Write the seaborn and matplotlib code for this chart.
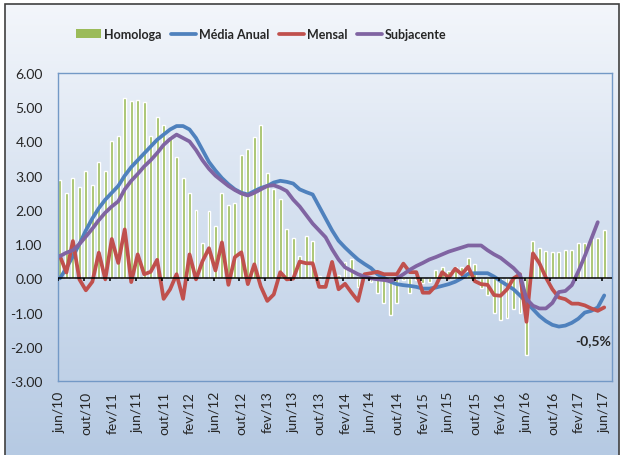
import numpy as np
import pandas as pd
import matplotlib
matplotlib.use('Agg')
import matplotlib.pyplot as plt
import seaborn as sns
from matplotlib.colors import LinearSegmentedColormap
from matplotlib.patches import Patch, Rectangle
from matplotlib.lines import Line2D

# Dados mensais jun/10 - jun/17
homologa = [2.86, 2.48, 2.93, 2.67, 3.14, 2.74, 3.41, 3.14, 4.02, 4.17,
            5.26, 5.18, 5.21, 5.15, 4.17, 4.71, 4.49, 4.15, 3.56, 2.94,
            2.48, 2.01, 1.04, 1.97, 1.54, 2.48, 2.13, 2.20, 3.59, 3.79,
            4.14, 4.49, 3.09, 2.60, 2.33, 1.43, 1.19, 0.65, 1.23, 1.08,
            0.08, 0.02, 0.05, 0.10, 0.49, 0.57, -0.24, 0.15, -0.10, -0.42,
            -0.73, -1.07, -0.73, -0.05, -0.42, -0.05, -0.13, -0.10, 0.23, 0.34,
            0.21, 0.34, 0.34, 0.58, 0.43, -0.27, -0.49, -1.00, -1.22, -1.15,
            -0.90, -1.00, -2.23, 1.08, 0.88, 0.81, 0.77, 0.77, 0.82, 0.84,
            1.04, 1.04, 1.14, 1.18, 1.40]

media_anual = [0.00, 0.30, 0.65, 1.00, 1.40, 1.75, 2.05, 2.30, 2.50, 2.70,
               3.00, 3.25, 3.45, 3.65, 3.85, 4.05, 4.20, 4.35, 4.45, 4.45,
               4.35, 4.10, 3.75, 3.40, 3.15, 2.93, 2.75, 2.60, 2.50, 2.45,
               2.55, 2.64, 2.70, 2.80, 2.85, 2.82, 2.77, 2.60, 2.52, 2.45,
               2.10, 1.75, 1.40, 1.10, 0.90, 0.72, 0.55, 0.42, 0.30, 0.12,
               0.02, -0.10, -0.17, -0.20, -0.22, -0.25, -0.30, -0.30, -0.27, -0.22,
               -0.17, -0.10, 0.00, 0.13, 0.15, 0.15, 0.15, 0.05, -0.08, -0.20,
               -0.32, -0.50, -0.70, -0.90, -1.10, -1.25, -1.36, -1.41, -1.38, -1.30,
               -1.18, -1.00, -0.95, -0.85, -0.50]

mensal = [0.65, 0.17, 1.09, -0.03, -0.35, -0.10, 0.75, -0.03, 1.15, 0.45,
          1.43, -0.11, 0.70, 0.12, 0.19, 0.54, -0.60, -0.32, 0.12, -0.60,
          0.70, -0.03, 0.50, 0.88, 0.23, 1.05, -0.19, 0.62, 0.76, -0.17,
          0.41, -0.24, -0.66, -0.47, 0.18, -0.03, -0.01, 0.49, 0.44, 0.44,
          -0.25, -0.25, 0.48, -0.32, -0.16, -0.42, -0.66, 0.12, 0.15, 0.19,
          0.12, 0.12, 0.12, 0.43, 0.18, 0.18, -0.42, -0.42, -0.22, 0.18,
          0.02, 0.28, 0.12, 0.34, -0.08, -0.17, -0.19, -0.49, -0.51, -0.32,
          0.00, 0.12, -1.27, 0.73, 0.44, 0.02, -0.32, -0.56, -0.61, -0.74,
          -0.74, -0.79, -0.88, -0.95, -0.85]

subjacente = [0.65, 0.75, 0.82, 1.00, 1.22, 1.45, 1.70, 1.92, 2.10, 2.25,
              2.60, 2.85, 3.05, 3.27, 3.45, 3.66, 3.90, 4.07, 4.20, 4.10,
              4.00, 3.75, 3.45, 3.20, 3.00, 2.85, 2.70, 2.58, 2.48, 2.42,
              2.50, 2.60, 2.70, 2.72, 2.65, 2.55, 2.30, 2.10, 1.85, 1.60,
              1.40, 1.20, 0.85, 0.55, 0.32, 0.22, 0.12, 0.05, 0.00, -0.03,
              -0.05, -0.08, 0.00, 0.12, 0.25, 0.36, 0.45, 0.55, 0.62, 0.70,
              0.78, 0.84, 0.90, 0.96, 0.96, 0.96, 0.82, 0.70, 0.60, 0.45,
              0.30, 0.10, -0.60, -0.80, -0.88, -0.88, -0.72, -0.40, -0.37, -0.20,
              0.20, 0.65, 1.15, 1.64, np.nan]

rotulos_x = ['jun/10', 'out/10', 'fev/11', 'jun/11', 'out/11', 'fev/12',
             'jun/12', 'out/12', 'fev/13', 'jun/13', 'out/13', 'fev/14',
             'jun/14', 'out/14', 'fev/15', 'jun/15', 'out/15', 'fev/16',
             'jun/16', 'out/16', 'fev/17', 'jun/17']

dados = pd.DataFrame({'mes': np.arange(len(homologa)),
                      'Homologa': homologa,
                      'Média Anual': media_anual,
                      'Mensal': mensal,
                      'Subjacente': subjacente})

cores = {'Homologa': '#9bbb59', 'Média Anual': '#4f81bd',
         'Mensal': '#c0504d', 'Subjacente': '#8064a2'}

sns.set_theme(style='white')
plt.rcParams['font.family'] = ['Lato', 'DejaVu Sans']

fig = plt.figure(figsize=(6.21, 4.56), dpi=100)
fig.patch.set_facecolor('white')

# fundo em degradê
bg = fig.add_axes([5/621, 0, 614/621, 451/456], zorder=-10)
cmap = LinearSegmentedColormap.from_list('fundo', ['#b6cae3', '#d3dfef', '#f3f6fb'])
bg.imshow(np.linspace(0, 1, 256).reshape(-1, 1)[::-1], aspect='auto', cmap=cmap,
          extent=[0, 1, 0, 1])
bg.axis('off')
fig.patches.append(Rectangle((5/621, -0.01), 614/621, 451/456 + 0.01,
                             transform=fig.transFigure, fill=False,
                             edgecolor='#404040', linewidth=1.2))

ax = fig.add_axes([0.0934, 0.1623, 0.8921, 0.6754])
ax.patch.set_visible(False)

sns.barplot(data=dados, x='mes', y='Homologa', color=cores['Homologa'],
            saturation=1, width=0.45, native_scale=True, ax=ax)
for serie in ['Média Anual', 'Mensal', 'Subjacente']:
    sns.lineplot(data=dados, x='mes', y=serie, color=cores[serie],
                 linewidth=2.7, ax=ax)

ax.axhline(0, color='black', linewidth=1.1, zorder=5)
ticks_x = np.arange(0, len(homologa), 4)
ax.vlines(ticks_x - 0.3, -0.07, 0, color='black', linewidth=1.1, zorder=5)

ax.set_xlim(-0.3, 85.2)
ax.set_ylim(-3, 6)
ax.set_xticks(ticks_x)
ax.set_xticklabels(rotulos_x, rotation=90, fontsize=10)
ax.set_yticks(np.arange(-3, 7, 1))
ax.set_yticklabels([f'{v:.2f}' for v in np.arange(-3, 7, 1)], fontsize=10)
ax.tick_params(axis='both', length=0)
ax.tick_params(axis='y', pad=11)
ax.tick_params(axis='x', pad=7)
ax.set_xlabel('')
ax.set_ylabel('')
for s in ax.spines.values():
    s.set_color('#7399c6')
    s.set_linewidth(1.0)

ax.annotate('-0,5%', xy=(84, media_anual[-1]), xytext=(-8, -32),
            textcoords='offset points', ha='center', va='center',
            fontsize=10, fontweight='bold')

handles = [Patch(facecolor=cores['Homologa'], edgecolor='none')]
handles += [Line2D([], [], color=cores[s], linewidth=2.7)
            for s in ['Média Anual', 'Mensal', 'Subjacente']]
fig.legend(handles, ['Homologa', 'Média Anual', 'Mensal', 'Subjacente'],
           loc='center left', bbox_to_anchor=(65/621, 1 - 35/456), ncol=4,
           frameon=False, handlelength=2.0, handletextpad=0.2,
           columnspacing=0.8, prop={'weight': 'bold', 'size': 9})

fig.savefig('out.png', dpi=100)
